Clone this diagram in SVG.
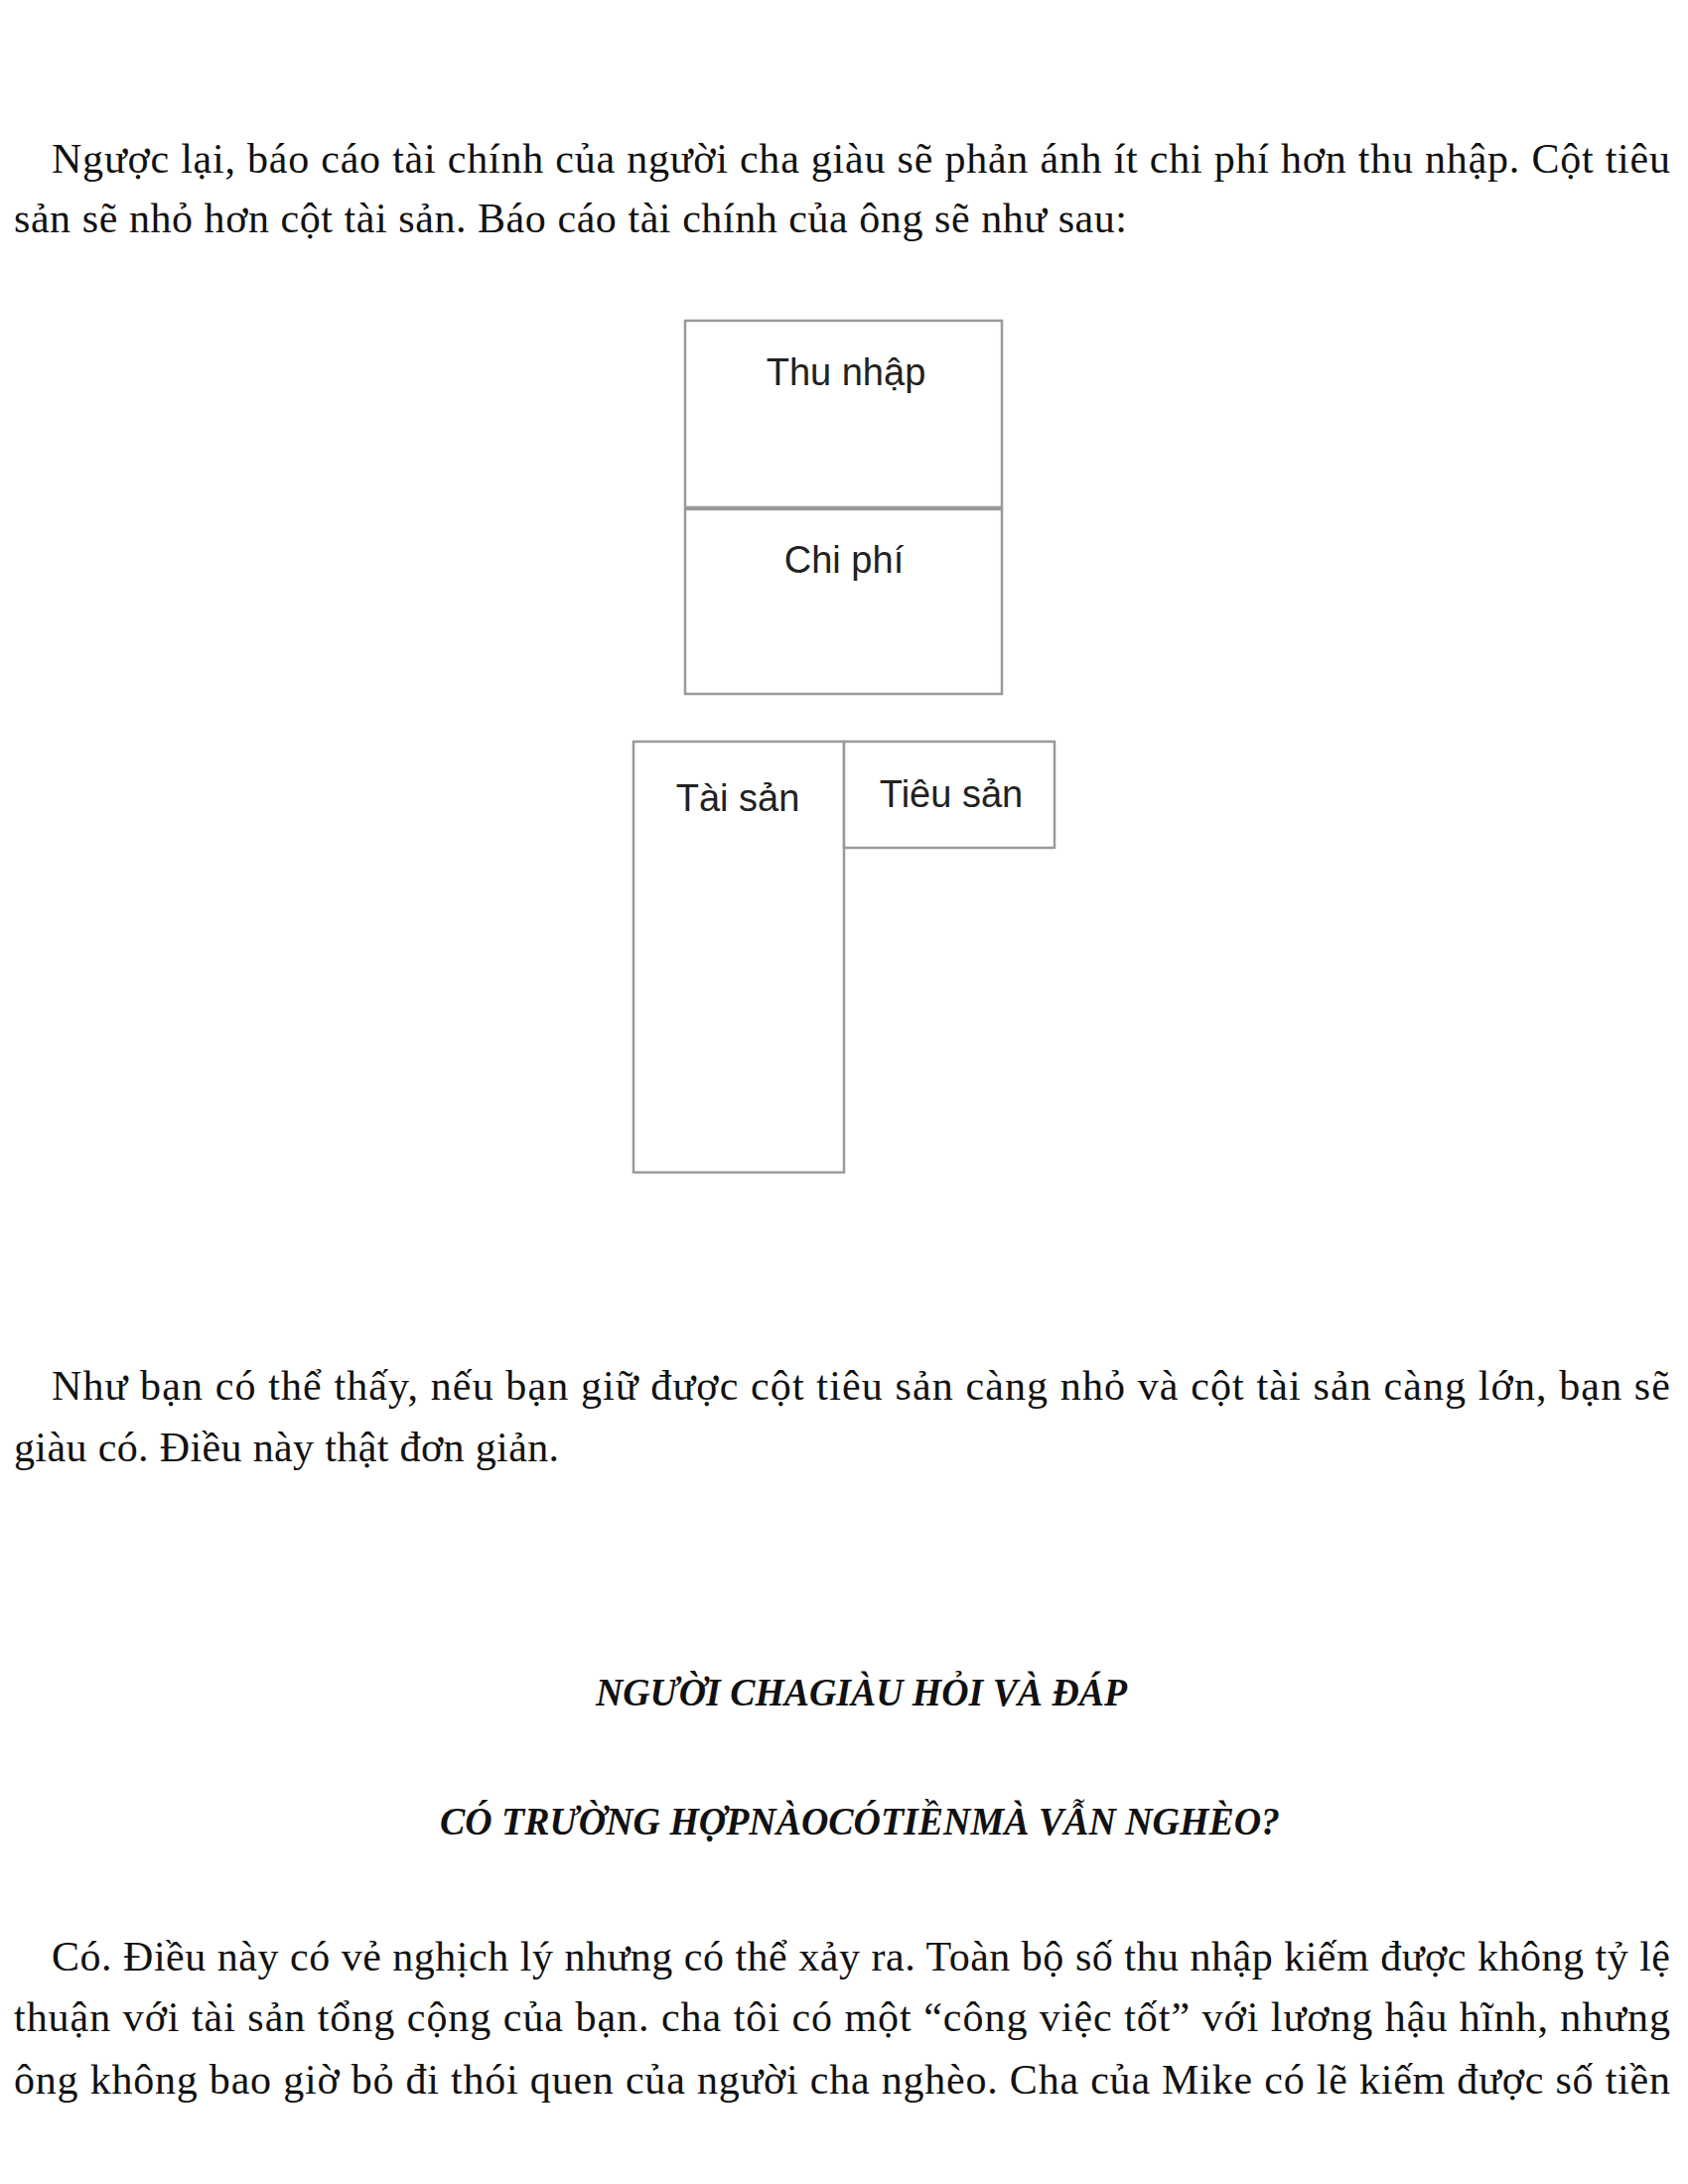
<svg xmlns="http://www.w3.org/2000/svg" width="1700" height="2200" viewBox="0 0 1700 2200">
<style>
.body{font-family:"Liberation Serif","DejaVu Serif",serif;font-size:42px;fill:#111;}
.head{font-family:"Liberation Serif","DejaVu Serif",serif;font-size:40px;font-weight:bold;font-style:italic;fill:#111;}
.box{fill:#fff;stroke:#9a9a9a;stroke-width:2.5;}
.lbl{font-family:"Liberation Sans",Arial,sans-serif;font-size:38px;fill:#222;text-anchor:middle;}
</style>
<rect x="0" y="0" width="1700" height="2200" fill="#fff"/>
<g id="para1">
<text class="body" x="52" y="174" textLength="1630" lengthAdjust="spacing">Ngược lại, báo cáo tài chính của người cha giàu sẽ phản ánh ít chi phí hơn thu nhập. Cột tiêu</text>
<text class="body" x="14" y="234" textLength="1121" lengthAdjust="spacing">sản sẽ nhỏ hơn cột tài sản. Báo cáo tài chính của ông sẽ như sau:</text>
</g>
<g id="node-thu-nhap">
<rect class="box" x="690" y="323" width="319" height="188"/>
<text class="lbl" x="852" y="388">Thu nhập</text>
</g>
<g id="node-chi-phi">
<rect class="box" x="690" y="513" width="319" height="186"/>
<text class="lbl" x="850" y="577">Chi phí</text>
</g>
<g id="node-tai-san">
<rect class="box" x="638" y="747" width="212" height="434"/>
<text class="lbl" x="743" y="817">Tài sản</text>
</g>
<g id="node-tieu-san">
<rect class="box" x="850" y="747" width="212" height="107"/>
<text class="lbl" x="958" y="813">Tiêu sản</text>
</g>
<g id="connectors"></g>
<g id="para2">
<text class="body" x="52" y="1410" textLength="1630" lengthAdjust="spacing">Như bạn có thể thấy, nếu bạn giữ được cột tiêu sản càng nhỏ và cột tài sản càng lớn, bạn sẽ</text>
<text class="body" x="14" y="1472" textLength="549" lengthAdjust="spacing">giàu có. Điều này thật đơn giản.</text>
</g>
<g id="headings">
<text class="head" x="600" y="1718" textLength="535" lengthAdjust="spacingAndGlyphs">NGƯỜI CHAGIÀU HỎI VÀ ĐÁP</text>
<text class="head" x="443" y="1848" textLength="846" lengthAdjust="spacingAndGlyphs">CÓ TRƯỜNG HỢPNÀOCÓTIỀNMÀ VẪN NGHÈO?</text>
</g>
<g id="para3">
<text class="body" x="52" y="1985" textLength="1630" lengthAdjust="spacing">Có. Điều này có vẻ nghịch lý nhưng có thể xảy ra. Toàn bộ số thu nhập kiếm được không tỷ lệ</text>
<text class="body" x="14" y="2046" textLength="1668" lengthAdjust="spacing">thuận với tài sản tổng cộng của bạn. cha tôi có một “công việc tốt” với lương hậu hĩnh, nhưng</text>
<text class="body" x="14" y="2109" textLength="1668" lengthAdjust="spacing">ông không bao giờ bỏ đi thói quen của người cha nghèo. Cha của Mike có lẽ kiếm được số tiền</text>
</g>
</svg>
